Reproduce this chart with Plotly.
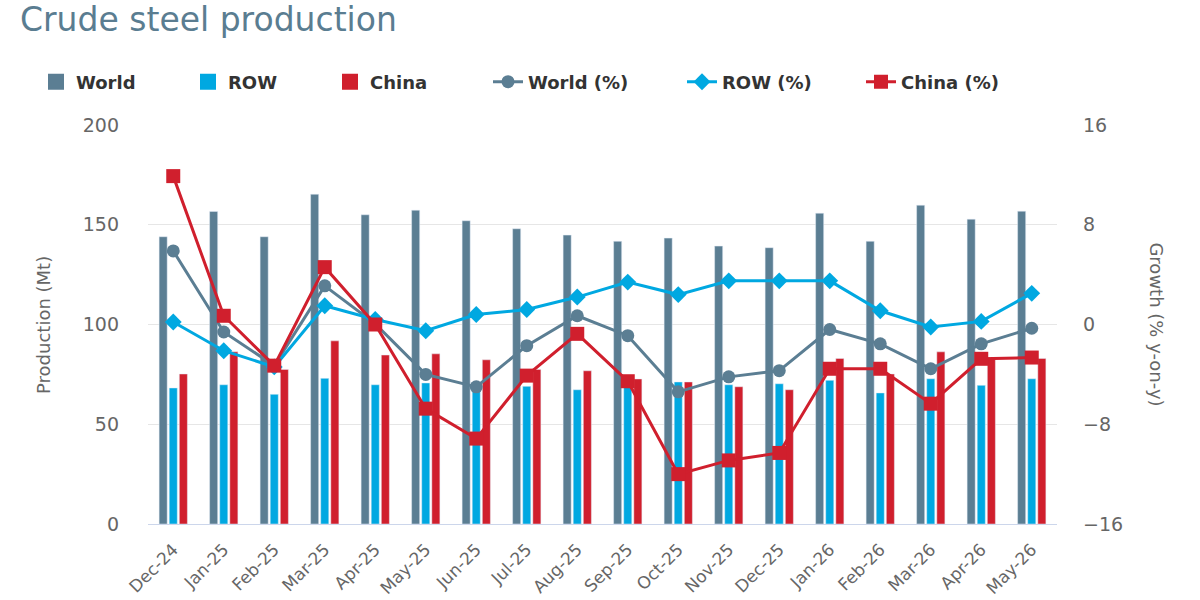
import plotly.graph_objects as go

months = ["Dec-24", "Jan-25", "Feb-25", "Mar-25", "Apr-25", "May-25", "Jun-25", "Jul-25", "Aug-25",
          "Sep-25", "Oct-25", "Nov-25", "Dec-25", "Jan-26", "Feb-26", "Mar-26", "Apr-26", "May-26"]

world_prod = [144.0, 156.7, 144.0, 165.3, 155.0, 157.3, 152.0, 148.0, 144.8,
              141.7, 143.3, 139.3, 138.5, 155.8, 141.7, 159.8, 152.8, 156.8]
row_prod = [68.2, 69.8, 65.0, 73.0, 69.8, 70.7, 68.0, 69.0, 67.3,
            69.5, 71.2, 69.8, 70.3, 72.0, 65.7, 72.8, 69.5, 72.8]
china_prod = [75.2, 86.3, 77.5, 91.8, 84.7, 85.3, 82.3, 77.5, 76.8,
              72.7, 71.2, 68.8, 67.3, 83.0, 75.2, 86.3, 82.8, 83.0]

world_pct = [5.9, -0.6, -3.3, 3.1, 0.05, -4.0, -5.0, -1.7, 0.7,
             -0.9, -5.4, -4.2, -3.7, -0.4, -1.55, -3.55, -1.55, -0.3]
row_pct = [0.2, -2.1, -3.4, 1.5, 0.4, -0.5, 0.8, 1.2, 2.2,
           3.4, 2.4, 3.5, 3.5, 3.5, 1.1, -0.2, 0.25, 2.5]
china_pct = [11.9, 0.7, -3.3, 4.6, 0.0, -6.75, -9.15, -4.1, -0.75,
             -4.55, -12.0, -10.9, -10.3, -3.55, -3.55, -6.35, -2.75, -2.65]

C_WORLD = "#5b7e93"
C_ROW = "#00a8e1"
C_CHINA = "#d01f2d"
FONT = "DejaVu Sans"

fig = go.Figure()
# bars (legend shown through square-marker legend entries below)
for name, vals, col in [("World", world_prod, C_WORLD), ("ROW", row_prod, C_ROW), ("China", china_prod, C_CHINA)]:
    fig.add_trace(go.Bar(x=months, y=vals, name=name, marker_color=col, showlegend=False,
                         legendgroup=name))

fig.add_trace(go.Scatter(x=months, y=world_pct, name="World (%)", yaxis="y2", mode="lines+markers",
                         line=dict(color=C_WORLD, width=3),
                         marker=dict(symbol="circle", size=13, color=C_WORLD), legend="legend4"))
fig.add_trace(go.Scatter(x=months, y=row_pct, name="ROW (%)", yaxis="y2", mode="lines+markers",
                         line=dict(color=C_ROW, width=3),
                         marker=dict(symbol="diamond", size=13, color=C_ROW), legend="legend5"))
fig.add_trace(go.Scatter(x=months, y=china_pct, name="China (%)", yaxis="y2", mode="lines+markers",
                         line=dict(color=C_CHINA, width=3),
                         marker=dict(symbol="square", size=14, color=C_CHINA), legend="legend6"))

# legend entries for the bar series (square swatches)
for name, col, leg in [("World", C_WORLD, "legend"), ("ROW", C_ROW, "legend2"), ("China", C_CHINA, "legend3")]:
    fig.add_trace(go.Scatter(x=[None], y=[None], name=name, mode="markers", legendgroup=name,
                             marker=dict(symbol="square", size=18, color=col), legend=leg))

legend_font = dict(family=FONT, size=18, color="#333333", weight=600)
leg_x = [36, 188, 330, 488, 682, 861]
legends = {}
for i, lx in enumerate(leg_x):
    key = "legend" if i == 0 else f"legend{i+1}"
    legends[key] = dict(xref="container", yref="container", x=lx / 1200, y=1 - 82 / 600,
                        xanchor="left", yanchor="middle", orientation="h",
                        font=legend_font, bgcolor="rgba(0,0,0,0)", borderwidth=0)

fig.update_layout(
    width=1200, height=600,
    margin=dict(l=148, r=143, t=125, b=76),
    paper_bgcolor="white", plot_bgcolor="white",
    barmode="group", bargap=0.4, bargroupgap=0.2,
    showlegend=True,
    title=dict(text="Crude steel production", xref="container", yref="container",
               x=20 / 1200, y=1 - 19 / 600, xanchor="left", yanchor="middle",
               font=dict(family=FONT, size=33, color="#5a7d91")),
    font=dict(family=FONT, color="#666666"),
    xaxis=dict(tickangle=-45, tickfont=dict(size=17, color="#666666"), showgrid=False,
               showline=True, linecolor="#ccd6eb", linewidth=1, ticks="", ticklabelstandoff=8,
               automargin=False, range=[-0.5, len(months) - 0.5], autorange=False),
    yaxis=dict(range=[0, 200], dtick=50, tickfont=dict(size=19, color="#666666"),
               gridcolor="#e6e6e6", gridwidth=1, zeroline=False, showline=False,
               ticklabelstandoff=28, automargin=False),
    yaxis2=dict(range=[-16, 16], dtick=8, overlaying="y", side="right",
                tickfont=dict(size=19, color="#666666"), showgrid=False, zeroline=False,
                ticklabelstandoff=25, automargin=False),
    annotations=[
        dict(text="Production (Mt)", xref="paper", yref="paper", x=-0.115, y=0.5,
             xanchor="center", yanchor="middle", textangle=-90, showarrow=False,
             font=dict(family=FONT, size=18, color="#666666")),
        dict(text="Growth (% y-on-y)", xref="paper", yref="paper", x=1.109, y=0.5,
             xanchor="center", yanchor="middle", textangle=90, showarrow=False,
             font=dict(family=FONT, size=18, color="#666666")),
    ],
    **legends,
)

fig.write_html("out.html")
